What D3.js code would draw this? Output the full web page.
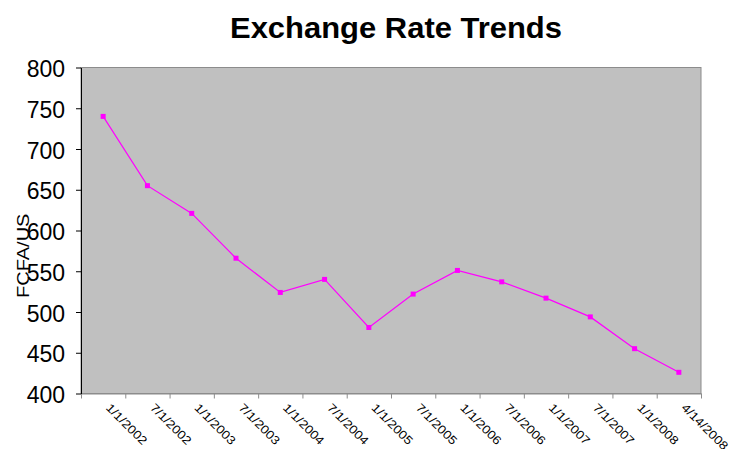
<!DOCTYPE html>
<html>
<head>
<meta charset="utf-8">
<script src="https://cdn.jsdelivr.net/npm/d3@7"></script>
<style>
  body { margin: 0; background: #fff; }
  svg { display: block; font-family: "Liberation Sans", Arial, sans-serif; }
</style>
</head>
<body>
<div id="chart"></div>
<script>
var dates = ["1/1/2002", "7/1/2002", "1/1/2003", "7/1/2003", "1/1/2004", "7/1/2004", "1/1/2005",
             "7/1/2005", "1/1/2006", "7/1/2006", "1/1/2007", "7/1/2007", "1/1/2008", "4/14/2008"];
var rates = [740, 655, 621, 566, 524, 540, 481, 522, 551, 537, 517, 494, 455, 426];
var yTicks = [400, 450, 500, 550, 600, 650, 700, 750, 800];

var svgWidth = 729;
var svgHeight = 449;

var margin = { top: 67.5, right: 28, bottom: 55.5, left: 81 };
var width = svgWidth - margin.left - margin.right;
var height = svgHeight - margin.top - margin.bottom;

var svg = d3.select("#chart")
    .append("svg")
    .attr("width", svgWidth)
    .attr("height", svgHeight);

// title
svg.append("text")
    .attr("x", 396)
    .attr("y", 38)
    .attr("text-anchor", "middle")
    .attr("font-size", "30px")
    .attr("font-weight", "bold")
    .attr("textLength", 332)
    .attr("lengthAdjust", "spacingAndGlyphs")
    .text("Exchange Rate Trends");

var chartGroup = svg.append("g")
    .attr("transform", `translate(${margin.left}, ${margin.top})`);

// scales
var xBand = d3.scaleBand()
    .domain(dates)
    .range([0, width]);

var xEdge = d3.scaleLinear()
    .domain([0, dates.length])
    .range([0, width]);

var yScale = d3.scaleLinear()
    .domain([400, 800])
    .range([height, 0]);

// plot area
chartGroup.append("rect")
    .attr("width", width)
    .attr("height", height)
    .attr("fill", "#c0c0c0")
    .attr("stroke", "#8c8c8c")
    .attr("stroke-width", 1);

// x axis: tick marks at category edges
var xAxis = chartGroup.append("g")
    .attr("transform", `translate(0, ${height})`)
    .call(d3.axisBottom(xEdge).tickValues(d3.range(dates.length + 1)).tickFormat("").tickSize(5).tickSizeOuter(0));
xAxis.select(".domain").attr("stroke", "#8c8c8c");
xAxis.selectAll(".tick line").attr("stroke", "#8c8c8c");

// x labels, rotated
chartGroup.append("g").selectAll("text")
    .data(dates)
    .enter()
    .append("text")
    .attr("transform", d => `translate(${xBand(d) + xBand.bandwidth() / 2 + 2}, ${height + 15}) rotate(45) scale(1, 0.88)`)
    .attr("font-size", "13.5px")
    .attr("fill", "#000")
    .text(d => d);

// y axis
var yAxis = chartGroup.append("g")
    .call(d3.axisLeft(yScale).tickValues(yTicks).tickSize(5).tickSizeOuter(0).tickPadding(11));
yAxis.select(".domain").attr("stroke", "#000");
yAxis.selectAll(".tick text")
    .attr("font-size", "23px")
    .attr("font-family", "\"Liberation Sans\", Arial, sans-serif")
    .attr("dy", "0.4em");

// y axis title, clipped like the original
svg.append("clipPath")
    .attr("id", "ylabClip")
    .append("rect")
    .attr("x", 0).attr("y", 213).attr("width", 60).attr("height", 120);

svg.append("g")
    .attr("clip-path", "url(#ylabClip)")
    .append("text")
    .attr("transform", "translate(29, 298) rotate(-90) scale(1, 0.87)")
    .attr("font-size", "20px")
    .text("FCFA/US$");

// line
var line = d3.line()
    .x((d, i) => xBand(dates[i]) + xBand.bandwidth() / 2)
    .y(d => yScale(d));

chartGroup.append("path")
    .datum(rates)
    .attr("d", line)
    .attr("fill", "none")
    .attr("stroke", "#ff00ff")
    .attr("stroke-width", 1.2);

chartGroup.selectAll("rect.marker")
    .data(rates)
    .enter()
    .append("rect")
    .attr("class", "marker")
    .attr("x", (d, i) => xBand(dates[i]) + xBand.bandwidth() / 2 - 2.5)
    .attr("y", d => yScale(d) - 2.5)
    .attr("width", 5)
    .attr("height", 5)
    .attr("fill", "#ff00ff");
</script>
</body>
</html>
